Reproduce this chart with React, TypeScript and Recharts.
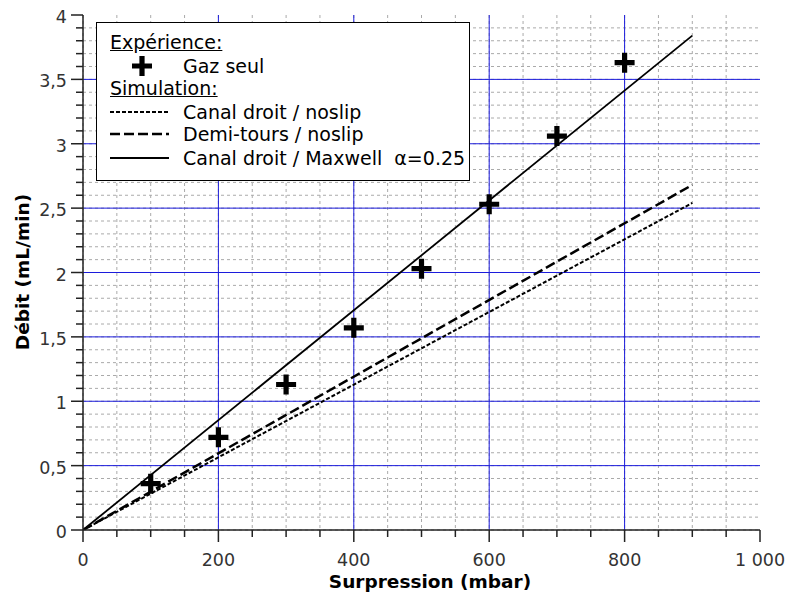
import { ComposedChart, Line, Scatter, XAxis, YAxis, CartesianGrid, ReferenceLine } from 'recharts'

// simulated curves (straight lines from 0 to 900 mbar)
const simX = [0, 900]
const canalNoslip = [0, 2.54]
const demiToursNoslip = [0, 2.68]
const canalMaxwell = [0, 3.84]

// experiment
const expX = [100, 200, 300, 400, 500, 600, 700, 800]
const gazSeul = [0.36, 0.72, 1.13, 1.57, 2.03, 2.53, 3.06, 3.63]

const xMajor = [0, 200, 400, 600, 800, 1000]
const yMajor = [0, 0.5, 1, 1.5, 2, 2.5, 3, 3.5, 4]
const xTicks = Array.from({ length: 21 }, (_, i) => i * 50)
const yTicks = Array.from({ length: 41 }, (_, i) => Math.round(i * 10) / 100)

const FONT = '"DejaVu Sans", sans-serif'
const BLUE = '#1c1cdc'
const AXIS = '#222'

const toPts = (xs: number[], ys: number[]) => xs.map((x, i) => ({ x, y: ys[i] }))

const isMajorX = (v: number) => xMajor.includes(v)
const isMajorY = (v: number) => yMajor.some((m) => Math.abs(m - v) < 1e-6)

const fmtX = (v: number) => (v >= 1000 ? v.toLocaleString('en-US').replace(',', ' ') : String(v))
const fmtY = (v: number) => String(v).replace('.', ',')

function XTick({ x, y, payload }: any) {
  const major = isMajorX(payload.value)
  return (
    <g>
      <line x1={x} x2={x} y1={y} y2={y + (major ? 12 : 7)} stroke={AXIS} strokeWidth={1.5} />
      {major && (
        <text x={x} y={y + 36} textAnchor="middle" fontSize={17.5} fill="#333" fontFamily={FONT}>
          {fmtX(payload.value)}
        </text>
      )}
    </g>
  )
}

function YTick({ x, y, payload }: any) {
  const major = isMajorY(payload.value)
  return (
    <g>
      <line x1={x} x2={x - (major ? 12 : 7)} y1={y} y2={y} stroke={AXIS} strokeWidth={1.5} />
      {major && (
        <text x={x - 16} y={y + 8} textAnchor="end" fontSize={17.5} fill="#333" fontFamily={FONT}>
          {fmtY(payload.value)}
        </text>
      )}
    </g>
  )
}

function Plus({ cx, cy }: any) {
  const a = 10
  const t = 2.6
  return (
    <path
      d={`M${cx - t},${cy - a}H${cx + t}V${cy - t}H${cx + a}V${cy + t}H${cx + t}V${cy + a}H${cx - t}V${cy + t}H${cx - a}V${cy - t}H${cx - t}Z`}
      fill="#000"
    />
  )
}

const rowStyle: React.CSSProperties = {
  position: 'absolute',
  left: 0,
  fontSize: 19,
  lineHeight: '20px',
  whiteSpace: 'nowrap',
}

function LegendBox() {
  const sample = (dash: string | undefined, w: number) => (
    <svg width={62} height={20} style={{ position: 'absolute', left: 12, top: 0 }}>
      <line x1={1} x2={60} y1={10} y2={10} stroke="#000" strokeWidth={w} strokeDasharray={dash} />
    </svg>
  )
  return (
    <div
      style={{
        position: 'absolute',
        left: 96,
        top: 22,
        width: 372,
        height: 157,
        border: '1.5px solid #000',
        background: '#fff',
        fontFamily: FONT,
        color: '#000',
      }}
    >
      <div style={{ ...rowStyle, top: 9, left: 13, textDecoration: 'underline' }}>Expérience:</div>
      <div style={{ ...rowStyle, top: 33, width: '100%' }}>
        <svg width={20} height={20} style={{ position: 'absolute', left: 35, top: 0 }}>
          <Plus cx={10} cy={10} />
        </svg>
        <span style={{ position: 'absolute', left: 86 }}>Gaz seul</span>
      </div>
      <div style={{ ...rowStyle, top: 55, left: 13, textDecoration: 'underline' }}>Simulation:</div>
      <div style={{ ...rowStyle, top: 79, width: '100%' }}>
        {sample('4 2', 2)}
        <span style={{ position: 'absolute', left: 86 }}>Canal droit / noslip</span>
      </div>
      <div style={{ ...rowStyle, top: 101, width: '100%' }}>
        {sample('10 4', 2.5)}
        <span style={{ position: 'absolute', left: 86 }}>Demi-tours / noslip</span>
      </div>
      <div style={{ ...rowStyle, top: 125, width: '100%' }}>
        {sample(undefined, 2)}
        <span style={{ position: 'absolute', left: 86 }}>Canal droit / Maxwell&nbsp; α=0.25</span>
      </div>
    </div>
  )
}

export default function App() {
  return (
    <div style={{ position: 'fixed', left: 0, top: 0, width: 789, height: 596, background: '#fff', fontFamily: FONT }}>
      <ComposedChart width={789} height={596} margin={{ top: 15, right: 29, bottom: 0, left: 0 }}>
        <CartesianGrid
          stroke="#aaa"
          strokeDasharray="3 3"
          strokeWidth={1}
          horizontalValues={yTicks.filter((v) => v < 4)}
          verticalValues={xTicks.filter((v) => v < 1000)}
        />
        <XAxis
          dataKey="x"
          type="number"
          domain={[0, 1000]}
          ticks={xTicks}
          interval={0}
          height={66}
          tickSize={0}
          tickMargin={0}
          tickLine={false}
          axisLine={{ stroke: AXIS, strokeWidth: 1.5 }}
          tick={<XTick />}
          allowDataOverflow
        />
        <YAxis
          dataKey="y"
          type="number"
          domain={[0, 4]}
          ticks={yTicks}
          interval={0}
          width={83}
          tickSize={0}
          tickMargin={0}
          tickLine={false}
          axisLine={{ stroke: AXIS, strokeWidth: 1.5 }}
          tick={<YTick />}
          allowDataOverflow
        />
        {[200, 400, 600, 800].map((v) => (
          <ReferenceLine key={'x' + v} x={v} stroke={BLUE} strokeWidth={1} />
        ))}
        {[0.5, 1, 1.5, 2, 2.5, 3, 3.5].map((v) => (
          <ReferenceLine key={'y' + v} y={v} stroke={BLUE} strokeWidth={1} />
        ))}
        <Line data={toPts(simX, canalNoslip)} dataKey="y" stroke="#000" strokeWidth={2} strokeDasharray="4 2" dot={false} isAnimationActive={false} />
        <Line data={toPts(simX, demiToursNoslip)} dataKey="y" stroke="#000" strokeWidth={2.5} strokeDasharray="10 4" dot={false} isAnimationActive={false} />
        <Line data={toPts(simX, canalMaxwell)} dataKey="y" stroke="#000" strokeWidth={1.8} dot={false} isAnimationActive={false} />
        <Scatter data={toPts(expX, gazSeul)} dataKey="y" shape={<Plus />} isAnimationActive={false} />
      </ComposedChart>
      <LegendBox />
      <div
        style={{
          position: 'absolute',
          left: 22,
          top: 272,
          transform: 'translate(-50%, -50%) rotate(-90deg)',
          fontWeight: 'bold',
          fontSize: 18.5,
          whiteSpace: 'nowrap',
          color: '#000',
        }}
      >
        Débit (mL/min)
      </div>
      <div
        style={{
          position: 'absolute',
          left: 430,
          top: 581,
          transform: 'translate(-50%, -50%)',
          fontWeight: 'bold',
          fontSize: 18.5,
          whiteSpace: 'nowrap',
          color: '#000',
        }}
      >
        Surpression (mbar)
      </div>
    </div>
  )
}
